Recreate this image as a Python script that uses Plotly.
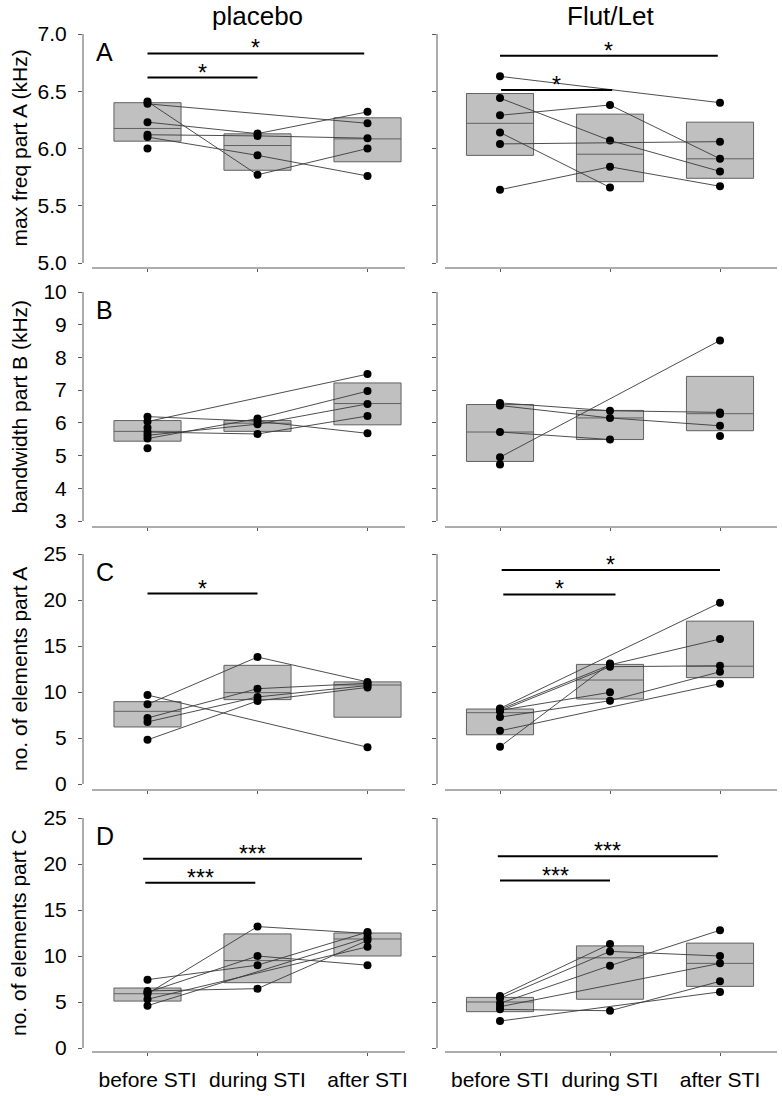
import plotly.graph_objects as go

W, H = 782, 1096
FONT = "Liberation Sans, Arial, Helvetica, sans-serif"

categories = ["before STI", "during STI", "after STI"]
col_titles = ["placebo", "Flut/Let"]
panel_letters = ["A", "B", "C", "D"]
y_titles = ["max freq part A (kHz)", "bandwidth part B (kHz)",
            "no. of elements part A", "no. of elements part C"]

# individual animals: [before, during, after]  (None = missing value)
A_placebo = [[6.41, 5.77, 6.00], [6.39, None, 6.22], [6.23, 6.13, 6.32],
             [6.12, 6.11, 6.09], [6.10, 5.94, 5.76], [6.00, None, None]]
A_flutlet = [[6.63, None, 6.40], [6.44, 6.07, 5.80], [6.29, 6.38, 5.91],
             [6.14, 5.66, None], [6.04, None, 6.06], [5.64, 5.84, 5.67]]
B_placebo = [[6.04, None, 7.49], [6.19, 6.05, 5.68], [5.52, 6.13, 6.97],
             [5.62, 5.96, 6.58], [5.72, 5.66, 6.21], [5.85, None, None],
             [5.22, None, None]]
B_flutlet = [[6.61, 6.37, 6.32], [6.53, 6.15, 5.91], [5.72, 5.49, None],
             [4.95, None, 8.52], [4.73, None, None], [None, None, 5.60],
             [None, None, 6.27]]
C_placebo = [[8.66, 13.8, 11.1], [9.67, None, 4.0], [7.18, 10.36, 10.95],
             [6.75, 9.46, 10.7], [4.8, 9.03, 10.5]]
C_flutlet = [[8.22, None, 19.7], [8.10, 12.95, 15.76], [7.93, 12.75, 12.85],
             [8.0, 9.96, None], [7.27, 9.05, 12.2], [5.78, None, 10.9],
             [4.05, 13.1, None]]
D_placebo = [[7.43, 9.0, 12.6], [5.9, 13.2, 12.45], [6.05, 10.0, 9.0],
             [6.2, 6.45, 11.7], [4.6, None, 12.0], [5.3, None, 11.0]]
D_flutlet = [[5.65, 11.3, None], [5.4, 10.5, 10.0], [4.86, 8.95, 12.8],
             [4.49, None, 9.2], [4.2, 4.05, 7.25], [2.93, None, 6.1]]

# boxes: per category [q1, median, q3]
A_placebo_box = [[6.064, 6.175, 6.40], [5.81, 6.026, 6.128], [5.884, 6.084, 6.268]]
A_flutlet_box = [[5.94, 6.22, 6.48], [5.71, 5.95, 6.30], [5.74, 5.91, 6.23]]
B_placebo_box = [[5.44, 5.74, 6.07], [5.74, 5.99, 6.07], [5.94, 6.59, 7.22]]
B_flutlet_box = [[4.82, 5.72, 6.56], [5.49, 6.15, 6.38], [5.76, 6.28, 7.42]]
C_placebo_box = [[6.2, 7.9, 8.95], [9.17, 9.93, 12.9], [7.26, 10.76, 11.1]]
C_flutlet_box = [[5.35, 7.75, 8.15], [9.24, 11.3, 13.0], [11.56, 12.8, 17.7]]
D_placebo_box = [[5.1, 5.9, 6.52], [7.1, 9.5, 12.4], [10.0, 11.85, 12.5]]
D_flutlet_box = [[3.95, 5.0, 5.5], [5.3, 9.8, 11.1], [6.7, 9.2, 11.4]]

# significance bars: (from category, to category, level, label)
A_placebo_sig = [(0.0, 1.97, 6.83, "*"), (0.0, 1.0, 6.62, "*")]
A_flutlet_sig = [(0.0, 1.98, 6.81, "*"), (0.01, 1.02, 6.51, "*")]
B_placebo_sig = []
B_flutlet_sig = []
C_placebo_sig = [(0.0, 1.0, 20.7, "*")]
C_flutlet_sig = [(0.015, 2.0, 23.25, "*"), (0.03, 1.05, 20.6, "*")]
D_placebo_sig = [(-0.04, 1.95, 20.58, "***"), (-0.02, 0.98, 17.97, "***")]
D_flutlet_sig = [(-0.02, 1.98, 20.83, "***"), (0.0, 1.0, 18.2, "***")]

panels = [
    [(A_placebo, A_placebo_box, A_placebo_sig), (A_flutlet, A_flutlet_box, A_flutlet_sig)],
    [(B_placebo, B_placebo_box, B_placebo_sig), (B_flutlet, B_flutlet_box, B_flutlet_sig)],
    [(C_placebo, C_placebo_box, C_placebo_sig), (C_flutlet, C_flutlet_box, C_flutlet_sig)],
    [(D_placebo, D_placebo_box, D_placebo_sig), (D_flutlet, D_flutlet_box, D_flutlet_sig)],
]

# ---------------- layout geometry (pixels) ----------------
row_cfg = [
    dict(lo=5.0, hi=7.0, dtick=0.5, fmt=".1f", top=34, zero=263, bottom=268),
    dict(lo=3, hi=10, dtick=1, fmt="", top=292, zero=521, bottom=527),
    dict(lo=0, hi=25, dtick=5, fmt="", top=554, zero=784, bottom=790),
    dict(lo=0, hi=25, dtick=5, fmt="", top=818, zero=1048, bottom=1052),
]
col_cfg = [
    dict(left=83, right=405, x0=147.5, line_start=92),
    dict(left=437, right=777, x0=500, line_start=445),
]
SPACING = 110.0
AXC = "#5a5a5a"

fig = go.Figure()
layout = dict(width=W, height=H,
              margin=dict(l=0, r=0, t=0, b=0, autoexpand=False),
              plot_bgcolor="white", paper_bgcolor="white", showlegend=False,
              font=dict(family=FONT, color="black"))
shapes, annotations = [], []

xpos = list(range(len(categories)))

for r, rc in enumerate(row_cfg):
    for c, cc in enumerate(col_cfg):
        n = r * 2 + c + 1
        xs = "x" if n == 1 else f"x{n}"
        ys = "y" if n == 1 else f"y{n}"
        xk = "xaxis" if n == 1 else f"xaxis{n}"
        yk = "yaxis" if n == 1 else f"yaxis{n}"
        subjects, box, sig = panels[r][c]

        ppu = (rc["zero"] - rc["top"]) / (rc["hi"] - rc["lo"])
        ylow = rc["lo"] - (rc["bottom"] - rc["zero"]) / ppu
        xlo = (cc["left"] - cc["x0"]) / SPACING
        xhi = (cc["right"] - cc["x0"]) / SPACING

        layout[xk] = dict(
            domain=[cc["left"] / W, cc["right"] / W], anchor=ys,
            range=[xlo, xhi], showgrid=False, zeroline=False, showline=False,
            tickvals=xpos, ticktext=categories, ticks="outside", ticklen=3,
            tickcolor=AXC, tickwidth=1, showticklabels=(r == 3),
            tickfont=dict(size=21, family=FONT, color="black"),
            ticklabelstandoff=6, automargin=False, fixedrange=True,
        )
        layout[yk] = dict(
            domain=[1 - rc["bottom"] / H, 1 - rc["top"] / H], anchor=xs,
            range=[ylow, rc["hi"]], showgrid=False, zeroline=False, showline=False,
            tick0=rc["lo"], dtick=rc["dtick"], tickformat=rc["fmt"],
            ticks="outside", ticklen=4, tickcolor=AXC, tickwidth=1,
            showticklabels=(c == 0),
            tickfont=dict(size=21, family=FONT, color="black"),
            ticklabelstandoff=7, automargin=False, fixedrange=True,
        )
        shapes.append(dict(type="line", xref=f"{xs} domain", yref=ys,
                           x0=0, x1=0, y0=rc["lo"], y1=rc["hi"],
                           line=dict(color=AXC, width=1)))
        shapes.append(dict(type="line", xref=f"{xs} domain", yref=f"{ys} domain",
                           x0=(cc["line_start"] - cc["left"]) / (cc["right"] - cc["left"]),
                           x1=1, y0=0, y1=0, line=dict(color=AXC, width=1)))

        fig.add_trace(go.Box(
            x=xpos, q1=[b[0] for b in box], median=[b[1] for b in box],
            q3=[b[2] for b in box], lowerfence=[b[0] for b in box],
            upperfence=[b[2] for b in box], width=0.61, whiskerwidth=0,
            fillcolor="rgb(192,192,192)", line=dict(color="#606060", width=1),
            boxpoints=False, hoverinfo="skip", xaxis=xs, yaxis=ys))

        for s in subjects:
            fig.add_trace(go.Scatter(
                x=xpos, y=s, mode="lines+markers", connectgaps=True,
                line=dict(color="#3a3a3a", width=0.9),
                marker=dict(color="black", size=8),
                hoverinfo="skip", xaxis=xs, yaxis=ys))

        for (a, b, lvl, lab) in sig:
            shapes.append(dict(type="line", xref=xs, yref=ys, x0=a, x1=b,
                               y0=lvl, y1=lvl, line=dict(color="black", width=2)))
            annotations.append(dict(xref=xs, yref=ys, x=(a + b) / 2, y=lvl,
                                    text=lab, showarrow=False, yanchor="bottom",
                                    yshift=-10, font=dict(size=23, family=FONT)))

        if c == 0:
            annotations.append(dict(xref="paper", yref="paper",
                                    x=94 / W, y=1 - (rc["top"] + 2) / H,
                                    xanchor="left", yanchor="top",
                                    text=panel_letters[r], showarrow=False,
                                    font=dict(size=25, family=FONT)))
            annotations.append(dict(xref="paper", yref="paper",
                                    x=19 / W, y=1 - (rc["top"] + rc["zero"]) / 2 / H,
                                    xanchor="center", yanchor="middle", textangle=-90,
                                    text=y_titles[r], showarrow=False,
                                    font=dict(size=21, family=FONT)))

for c, cc in enumerate(col_cfg):
    annotations.append(dict(xref="paper", yref="paper",
                            x=(cc["x0"] + SPACING) / W, y=1 - 16 / H,
                            xanchor="center", yanchor="middle",
                            text=col_titles[c], showarrow=False,
                            font=dict(size=26, family=FONT)))

layout["shapes"] = shapes
layout["annotations"] = annotations
fig.update_layout(**layout)
fig.write_html(
    "out.html",
    config={"displayModeBar": False, "staticPlot": False},
    post_script="document.body.style.margin='0px';document.body.style.padding='0px';"
                "document.body.style.overflow='hidden';",
)
